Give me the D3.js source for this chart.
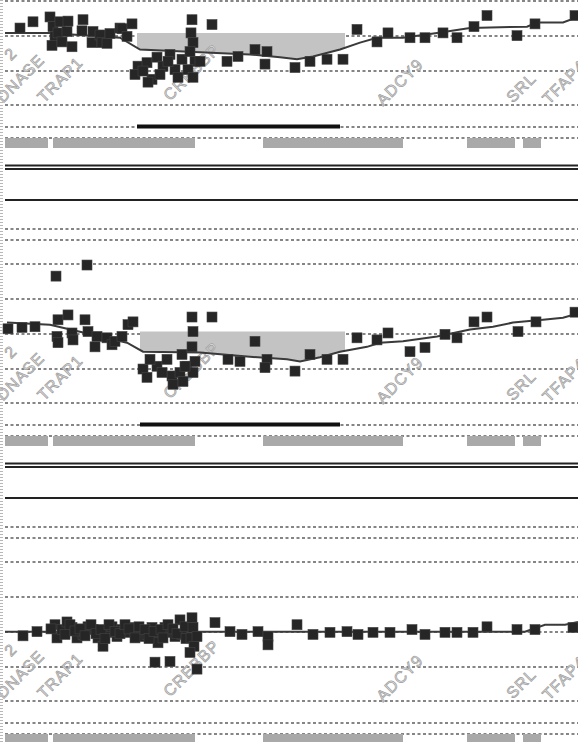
<!DOCTYPE html>
<html>
<head>
<meta charset="utf-8">
<script src="https://cdn.jsdelivr.net/npm/d3@7/dist/d3.min.js"></script>
<style>
  body { margin: 0; background: #fff; }
  svg { display: block; }
</style>
</head>
<body>
<div id="chart"></div>
<script>
// positions are in kb along the chromosome, values are log2 ratios

const geneNames = ["2", "DNASE", "TRAP1", "CREBBP", "ADCY9", "SRL", "TFAP4"]
const geneLabelKb = [30, -10, 195, 825, 1890, 2540, 2720]
const geneLabelRatio = [-0.37, -0.98, -0.98, -0.95, -1.02, -0.98, -1.0]

// annotation bars under each plot
const annotationBars = [[0, 215], [240, 950], [1290, 1990], [2310, 2550], [2590, 2680]]

const sample1Probes = [
  [75, 0.11], [140, 0.2], [225, 0.27], [240, 0.13], [250, -0.01], [235, -0.14], [275, 0.2],
  [265, 0.04], [285, -0.09], [315, 0.21], [310, 0.06], [335, -0.16], [390, 0.23], [385, 0.07],
  [440, 0.06], [435, -0.1], [475, 0.01], [485, -0.1], [525, 0.03], [510, -0.11], [575, 0.11],
  [585, 0.1], [610, -0.01], [635, 0.17],
  [665, -0.44], [710, -0.39], [735, -0.63], [760, -0.31], [790, -0.44], [825, -0.27], [850, -0.49],
  [885, -0.34], [650, -0.56], [690, -0.51], [775, -0.56], [715, -0.67], [815, -0.37], [865, -0.6],
  [935, 0.23], [930, 0.04], [940, -0.1], [925, -0.23], [950, -0.37], [915, -0.49], [940, -0.6],
  [975, -0.37], [1035, 0.16],
  [1110, -0.37], [1165, -0.3], [1250, -0.2], [1310, -0.23], [1300, -0.41], [1450, -0.46],
  [1525, -0.37], [1610, -0.34], [1690, -0.34], [1760, 0.09], [1860, -0.09], [1915, 0.04],
  [2025, -0.03], [2100, -0.03], [2190, 0.04], [2260, -0.03], [2345, 0.13], [2410, 0.29],
  [2560, 0], [2650, 0.17], [2850, 0.29]
]
const sample1Segment = [
  [0, 0.04], [225, 0.04], [575, -0.03], [675, -0.2], [975, -0.24], [1225, -0.27], [1375, -0.31],
  [1460, -0.34], [1540, -0.3], [1675, -0.2], [1775, -0.1], [1860, -0.03], [1990, -0.03],
  [2160, 0.04], [2325, 0.11], [2610, 0.13], [2660, 0.19], [2790, 0.19], [2865, 0.27]
]
const sample1Region = [660, 1700, 0.04]

const sample2Probes = [
  [15, 0.07], [85, 0.09], [150, 0.1], [265, 0.2], [315, 0.27], [260, -0.04], [265, -0.13],
  [335, 0.01], [340, -0.09], [400, 0.2], [415, 0.03], [460, -0.04], [450, -0.19], [510, -0.06],
  [535, -0.16], [550, -0.11], [585, -0.04], [615, 0.13], [640, 0.17],
  [255, 0.83], [410, 0.99],
  [690, -0.51], [760, -0.47], [810, -0.37], [835, -0.61], [840, -0.73], [885, -0.3], [910, -0.47],
  [875, -0.56], [725, -0.37], [785, -0.56], [710, -0.63],
  [935, 0.24], [940, 0.03], [935, -0.19], [950, -0.4], [940, -0.56], [900, -0.47], [890, -0.69],
  [1035, 0.24],
  [1115, -0.37], [1175, -0.4], [1250, -0.11], [1310, -0.37], [1300, -0.49], [1450, -0.54],
  [1525, -0.3], [1610, -0.37], [1690, -0.37], [1760, -0.06], [1860, -0.09], [1915, 0.01],
  [2025, -0.26], [2100, -0.2], [2200, -0.01], [2260, -0.06], [2345, 0.17], [2410, 0.24],
  [2565, 0.03], [2655, 0.17], [2850, 0.31]
]
const sample2Segment = [
  [10, 0.16], [225, 0.13], [610, -0.13], [690, -0.26], [975, -0.27], [1210, -0.33], [1410, -0.37],
  [1475, -0.4], [1575, -0.34], [1675, -0.26], [1810, -0.19], [1875, -0.13], [1990, -0.11],
  [2160, -0.04], [2325, 0.06], [2440, 0.1], [2540, 0.16], [2690, 0.2], [2790, 0.23], [2865, 0.29]
]
const sample2Region = [675, 1700, 0.03]

const sample3Probes = [
  [90, -0.06], [160, 0], [250, 0.1], [260, -0.09], [285, 0.03], [310, 0.14], [335, 0.06],
  [360, -0.09], [390, -0.04], [415, 0.07], [440, 0.03], [465, -0.09], [490, -0.21], [510, -0.01],
  [535, 0.07], [560, -0.07], [585, 0.03], [610, -0.01], [635, 0.06], [660, 0], [685, -0.07],
  [710, -0.04], [735, 0.06], [760, -0.07], [765, -0.16], [800, 0.06], [825, -0.01], [850, -0.07],
  [875, 0.17], [885, -0.04], [750, -0.44], [825, -0.43],
  [230, 0.04], [300, -0.04], [325, 0.1], [350, 0.01], [375, 0.04], [400, -0.06], [430, 0.1],
  [455, -0.03], [480, 0.03], [500, -0.1], [520, 0.1], [550, 0], [575, -0.03], [600, 0.1],
  [620, 0.04], [650, -0.09], [670, 0.07], [700, 0.03], [720, -0.1], [745, 0], [780, 0.03],
  [790, -0.09], [815, 0.1], [840, 0.04], [860, -0.03], [900, 0.07], [905, -0.1],
  [935, 0.2], [940, 0.06], [930, -0.09], [945, -0.21], [925, -0.3], [960, -0.07], [960, -0.54],
  [1050, 0.13], [1125, 0], [1185, -0.04], [1265, 0], [1315, -0.07], [1315, -0.19], [1460, 0.1],
  [1540, -0.04], [1625, -0.01], [1710, 0], [1765, -0.04], [1840, -0.01], [1925, -0.01],
  [2035, 0.03], [2100, -0.04], [2200, -0.01], [2260, -0.01], [2340, -0.01], [2410, 0.07],
  [2560, 0.03], [2650, 0.03], [2840, 0.06]
]
const sample3Segment = [[0, 0], [2600, 0], [2700, 0.1], [2800, 0.1], [2865, 0.14]]

const width = 578
const height = 742
const panelTops = [1, 299, 597]

const svg = d3.select("#chart").append("svg")
  .attr("width", width)
  .attr("height", height)
  .style("font-family", "'Liberation Sans', Arial, sans-serif")

const xScale = d3.scaleLinear().domain([0, 2865]).range([5, 578])

// dashed grid rows (offsets from panel top) and solid separators
const dashedRows = [-70, -59, -35, 0, 35, 70, 104, 126, 137]
const solidRows = [164.5, 168, 199]

function drawPanel(top, probes, segment, region) {
  const yScale = d3.scaleLinear().domain([0.5, -1]).range([top, top + 104])
  const g = svg.append("g")

  g.selectAll("line.grid").data(dashedRows).enter()
    .append("line")
    .attr("x1", 5).attr("x2", width)
    .attr("y1", d => top + d).attr("y2", d => top + d)
    .attr("stroke", "#5e5e5e")
    .attr("stroke-width", 1.3)
    .attr("stroke-dasharray", "3,2.5")

  g.selectAll("line.sep").data(solidRows).enter()
    .append("line")
    .attr("x1", 5).attr("x2", width)
    .attr("y1", d => top + d).attr("y2", d => top + d)
    .attr("stroke", "#222")
    .attr("stroke-width", 2)

  // shaded region between baseline and segment
  if (region) {
    const clipId = "clip" + top
    g.append("clipPath").attr("id", clipId)
      .append("rect")
      .attr("x", xScale(region[0]))
      .attr("width", xScale(region[1]) - xScale(region[0]))
      .attr("y", 0).attr("height", height)

    const area = d3.area()
      .x(d => xScale(d[0]))
      .y0(yScale(region[2]))
      .y1(d => yScale(d[1]))
    g.append("path")
      .datum(segment)
      .attr("clip-path", "url(#" + clipId + ")")
      .attr("fill", "#c3c3c3")
      .attr("d", area)
  }

  // gene labels
  g.selectAll("text.gene").data(geneNames).enter()
    .append("text")
    .attr("transform", (d, i) => "translate(" + xScale(geneLabelKb[i]) + "," + yScale(geneLabelRatio[i]) + ") rotate(-45)")
    .attr("font-size", 16)
    .attr("letter-spacing", 1)
    .attr("fill", "#e4e4e4")
    .attr("stroke", "#9c9c9c")
    .attr("stroke-width", 0.7)
    .text(d => d)

  const line = d3.line()
    .x(d => xScale(d[0]))
    .y(d => yScale(d[1]))
  g.append("path")
    .datum(segment)
    .attr("fill", "none")
    .attr("stroke", "#3a3a3a")
    .attr("stroke-width", 2)
    .attr("d", line)

  const size = 10
  g.selectAll("rect.probe").data(probes).enter()
    .append("rect")
    .attr("x", d => xScale(d[0]) - size / 2)
    .attr("y", d => yScale(d[1]) - size / 2)
    .attr("width", size)
    .attr("height", size)
    .attr("fill", "#262626")
    .attr("stroke", "#444")
    .attr("stroke-width", 0.6)

  if (region) {
    g.append("line")
      .attr("x1", xScale(region[0])).attr("x2", xScale(region[1]) - 5)
      .attr("y1", top + 125.5).attr("y2", top + 125.5)
      .attr("stroke", "#111")
      .attr("stroke-width", 4)
  }

  g.selectAll("rect.bar").data(annotationBars).enter()
    .append("rect")
    .attr("x", d => xScale(d[0]))
    .attr("width", d => xScale(d[1]) - xScale(d[0]))
    .attr("y", top + 137)
    .attr("height", 10)
    .attr("fill", "#a9a9a9")
}

drawPanel(panelTops[0], sample1Probes, sample1Segment, sample1Region)
drawPanel(panelTops[1], sample2Probes, sample2Segment, sample2Region)
drawPanel(panelTops[2], sample3Probes, sample3Segment, null)

// scanned left border
svg.append("line")
  .attr("x1", 1.5).attr("x2", 1.5)
  .attr("y1", 0).attr("y2", height)
  .attr("stroke", "#b8b8b8")
  .attr("stroke-width", 3)
  .attr("stroke-dasharray", "1,2")
</script>
</body>
</html>
